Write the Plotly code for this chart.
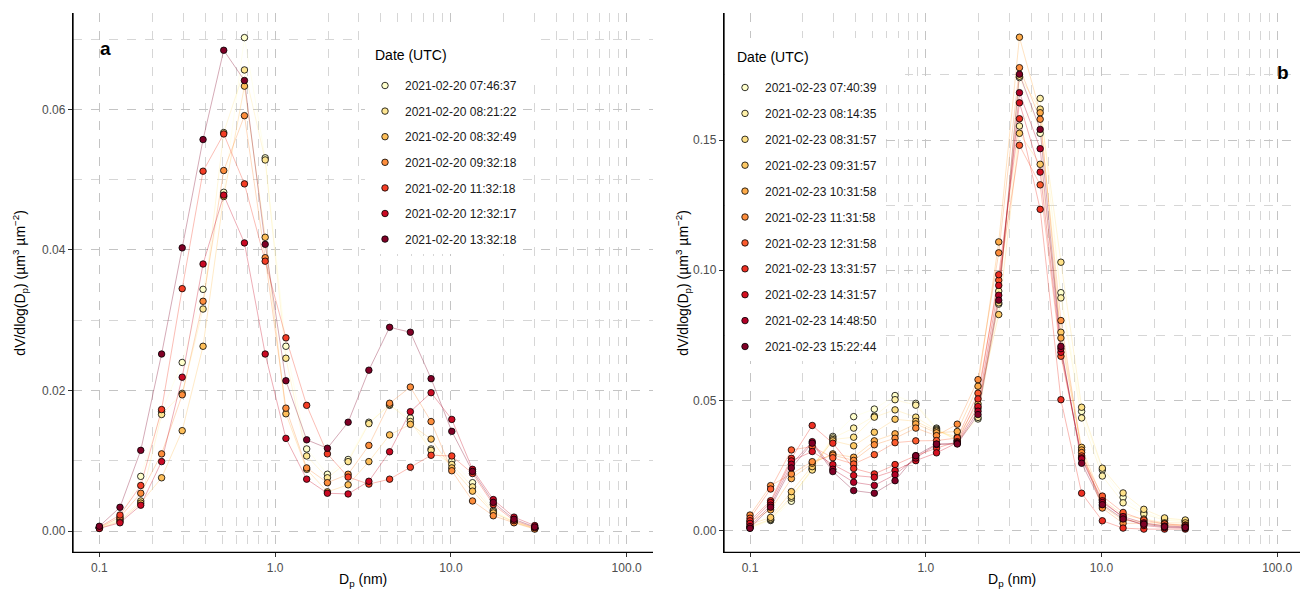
import plotly.graph_objects as go

W, H = 1300, 595

# Particle diameter bins
dp = [0.1, 0.131, 0.172, 0.226, 0.296, 0.389, 0.510, 0.669, 0.878, 1.152, 1.512,
      1.984, 2.603, 3.415, 4.481, 5.880, 7.715, 10.12, 13.28, 17.43, 22.86, 30.0]

# ---- Panel a : 2021-02-20 ----
dates_a = ["2021-02-20 07:46:37", "2021-02-20 08:21:22", "2021-02-20 08:32:49",
           "2021-02-20 09:32:18", "2021-02-20 11:32:18", "2021-02-20 12:32:17",
           "2021-02-20 13:32:18"]
colors_a = ["#FFFFCC", "#FEE692", "#FEBF5A", "#FD8D3C", "#F43D25", "#CA0923", "#800026"]
a_0746 = [0.0005, 0.0018, 0.0078, 0.0170, 0.0240, 0.0344, 0.0482, 0.0702, 0.0531, 0.0263, 0.0117,
          0.0081, 0.0102, 0.0155, 0.0179, 0.0161, 0.0117, 0.0100, 0.0069, 0.0030, 0.0014, 0.0004]
a_0821 = [0.0005, 0.0016, 0.0043, 0.0166, 0.0196, 0.0316, 0.0567, 0.0656, 0.0528, 0.0246, 0.0107,
          0.0076, 0.0099, 0.0153, 0.0180, 0.0156, 0.0115, 0.0095, 0.0063, 0.0028, 0.0013, 0.0004]
a_0832 = [0.0004, 0.0014, 0.0040, 0.0076, 0.0143, 0.0263, 0.0476, 0.0633, 0.0418, 0.0167, 0.0088,
          0.0056, 0.0066, 0.0099, 0.0137, 0.0152, 0.0131, 0.0090, 0.0057, 0.0026, 0.0013, 0.0004]
a_0932 = [0.0005, 0.0020, 0.0054, 0.0110, 0.0194, 0.0327, 0.0513, 0.0591, 0.0389, 0.0175, 0.0090,
          0.0069, 0.0081, 0.0122, 0.0182, 0.0205, 0.0156, 0.0086, 0.0043, 0.0022, 0.0012, 0.0003]
a_1132 = [0.0006, 0.0023, 0.0065, 0.0173, 0.0345, 0.0512, 0.0565, 0.0494, 0.0384, 0.0275, 0.0179,
          0.0110, 0.0077, 0.0067, 0.0074, 0.0091, 0.0108, 0.0107, 0.0082, 0.0038, 0.0015, 0.0005]
a_1232 = [0.0004, 0.0012, 0.0037, 0.0099, 0.0219, 0.0380, 0.0478, 0.0410, 0.0252, 0.0132, 0.0074,
          0.0054, 0.0053, 0.0071, 0.0113, 0.0170, 0.0197, 0.0159, 0.0088, 0.0045, 0.0020, 0.0008]
a_1332 = [0.0007, 0.0034, 0.0115, 0.0252, 0.0403, 0.0557, 0.0684, 0.0641, 0.0408, 0.0214, 0.0130,
          0.0118, 0.0155, 0.0229, 0.0290, 0.0283, 0.0217, 0.0142, 0.0085, 0.0041, 0.0017, 0.0006]
series_a = [a_0746, a_0821, a_0832, a_0932, a_1132, a_1232, a_1332]

# ---- Panel b : 2021-02-23 ----
dates_b = ["2021-02-23 07:40:39", "2021-02-23 08:14:35", "2021-02-23 08:31:57",
           "2021-02-23 09:31:57", "2021-02-23 10:31:58", "2021-02-23 11:31:58",
           "2021-02-23 12:31:58", "2021-02-23 13:31:57", "2021-02-23 14:31:57",
           "2021-02-23 14:48:50", "2021-02-23 15:22:44"]
colors_b = ["#FFFFCC", "#FFF1A9", "#FEE187", "#FEC965", "#FEAB49", "#FD8D3C",
            "#FC5B2E", "#ED2F22", "#D41020", "#B10026", "#800026"]
b_0740 = [0.0010, 0.0039, 0.0113, 0.0236, 0.0362, 0.0438, 0.0467, 0.0519, 0.0489, 0.0394, 0.0345,
          0.0429, 0.0870, 0.1740, 0.1526, 0.0914, 0.0458, 0.0233, 0.0128, 0.0070, 0.0045, 0.0038]
b_0814 = [0.0012, 0.0042, 0.0125, 0.0240, 0.0356, 0.0394, 0.0440, 0.0503, 0.0482, 0.0390, 0.0345,
          0.0435, 0.0920, 0.1554, 0.1660, 0.0894, 0.0433, 0.0210, 0.0107, 0.0064, 0.0040, 0.0035]
b_0831 = [0.0014, 0.0045, 0.0132, 0.0233, 0.0350, 0.0359, 0.0436, 0.0464, 0.0436, 0.0386, 0.0350,
          0.0470, 0.0875, 0.1745, 0.1619, 0.1031, 0.0474, 0.0240, 0.0145, 0.0082, 0.0049, 0.0041]
b_0931 = [0.0024, 0.0051, 0.0150, 0.0246, 0.0345, 0.0326, 0.0378, 0.0428, 0.0420, 0.0382, 0.0360,
          0.0487, 0.0830, 0.1526, 0.1407, 0.0762, 0.0320, 0.0120, 0.0060, 0.0045, 0.0030, 0.0030]
b_1031 = [0.0035, 0.0080, 0.0200, 0.0259, 0.0295, 0.0282, 0.0345, 0.0372, 0.0410, 0.0376, 0.0381,
          0.0555, 0.1109, 0.1895, 0.1605, 0.0740, 0.0310, 0.0095, 0.0040, 0.0035, 0.0026, 0.0022]
b_1131 = [0.0060, 0.0173, 0.0218, 0.0265, 0.0290, 0.0270, 0.0330, 0.0355, 0.0394, 0.0365, 0.0409,
          0.0580, 0.1067, 0.1778, 0.1580, 0.0807, 0.0300, 0.0087, 0.0028, 0.0028, 0.0020, 0.0019]
b_1231 = [0.0048, 0.0160, 0.0310, 0.0323, 0.0280, 0.0256, 0.0292, 0.0338, 0.0345, 0.0346, 0.0356,
          0.0528, 0.0962, 0.1480, 0.1328, 0.0670, 0.0287, 0.0133, 0.0070, 0.0041, 0.0026, 0.0020]
b_1331 = [0.0038, 0.0115, 0.0278, 0.0404, 0.0336, 0.0239, 0.0218, 0.0254, 0.0288, 0.0317, 0.0342,
          0.0506, 0.0983, 0.1582, 0.1234, 0.0503, 0.0144, 0.0038, 0.0010, 0.0006, 0.0006, 0.0006]
b_1431 = [0.0028, 0.0108, 0.0268, 0.0304, 0.0254, 0.0212, 0.0205, 0.0231, 0.0269, 0.0299, 0.0338,
          0.0477, 0.0942, 0.1643, 0.1377, 0.0685, 0.0280, 0.0115, 0.0050, 0.0020, 0.0012, 0.0010]
b_1448 = [0.0016, 0.0098, 0.0255, 0.0342, 0.0236, 0.0186, 0.0174, 0.0215, 0.0279, 0.0331, 0.0335,
          0.0459, 0.0904, 0.1682, 0.1467, 0.0699, 0.0276, 0.0108, 0.0054, 0.0030, 0.0018, 0.0015]
b_1522 = [0.0009, 0.0090, 0.0241, 0.0336, 0.0227, 0.0154, 0.0144, 0.0192, 0.0288, 0.0333, 0.0333,
          0.0446, 0.0885, 0.1753, 0.1541, 0.0708, 0.0259, 0.0100, 0.0045, 0.0025, 0.0015, 0.0012]
series_b = [b_0740, b_0814, b_0831, b_0931, b_1031, b_1131, b_1231, b_1331, b_1431, b_1448, b_1522]

x_tickvals = [0.1, 1, 10, 100]
x_ticktext = ["0.1", "1.0", "10.0", "100.0"]


def rgba(hexc, a):
    h = hexc.lstrip("#")
    r, g, b = int(h[0:2], 16), int(h[2:4], 16), int(h[4:6], 16)
    return f"rgba({r},{g},{b},{a})"


fig = go.Figure()

panels = [
    (series_a, dates_a, colors_a, "x", "y", "legend"),
    (series_b, dates_b, colors_b, "x2", "y2", "legend2"),
]

# lines first (below all points)
for series, dates, colors, xa, ya, lg in panels:
    for vals, d, c in zip(series, dates, colors):
        fig.add_trace(go.Scatter(x=dp, y=vals, mode="lines", xaxis=xa, yaxis=ya,
                                 line=dict(color=rgba(c, 0.42), width=0.8),
                                 showlegend=False, hoverinfo="skip", legendgroup=lg + d))
# points
for series, dates, colors, xa, ya, lg in panels:
    for vals, d, c in zip(series, dates, colors):
        fig.add_trace(go.Scatter(x=dp, y=vals, mode="markers", xaxis=xa, yaxis=ya, name=d,
                                 legend=lg, legendgroup=lg + d,
                                 marker=dict(size=6.5, color=c, line=dict(color="black", width=0.8))))

minor_x = [m * 10.0 ** e for e in (-1, 0, 1, 2) for m in range(2, 10)]

axis_common = dict(showline=True, linecolor="black", linewidth=1.3,
                   ticks="outside", ticklen=4, tickwidth=1, tickcolor="#333333",
                   tickfont=dict(family="Liberation Sans", size=12, color="#4D4D4D"),
                   showgrid=True, gridcolor="#C4C4C4", gridwidth=1.1, griddash="dash",
                   zeroline=False, automargin=False, layer="above traces")

ytop_px, ybot_px = 13, 552.3
ydom = [(H - ybot_px) / H, (H - ytop_px) / H]
xa_l, xa_r = 73 / W, 653 / W
xb_l, xb_r = 724 / W, 1.0

xa_common = dict(axis_common, type="log", tickvals=x_tickvals, ticktext=x_ticktext,
                 minor=dict(tickvals=minor_x, showgrid=True, gridcolor="#D6D6D6",
                            gridwidth=0.8, griddash="dash", ticks=""))

fig.update_layout(
    width=W, height=H,
    margin=dict(l=0, r=0, t=0, b=0),
    paper_bgcolor="white", plot_bgcolor="white",
    font=dict(family="Liberation Sans", color="#1A1A1A"),
    xaxis=dict(xa_common, domain=[xa_l, xa_r], range=[-1.15, 2.15], anchor="y"),
    yaxis=dict(axis_common, domain=ydom, range=[-0.0030, 0.0737], dtick=0.02, tick0=0,
               tickformat=".2f", anchor="x",
               minor=dict(dtick=0.01, tick0=0, showgrid=True, gridcolor="#D6D6D6",
                          gridwidth=0.8, griddash="dash", ticks="")),
    xaxis2=dict(xa_common, domain=[xb_l, xb_r], range=[-1.148, 2.13], anchor="y2"),
    yaxis2=dict(axis_common, domain=ydom, range=[-0.0083, 0.1988], dtick=0.05, tick0=0,
                tickformat=".2f", anchor="x2",
                minor=dict(dtick=0.025, tick0=0, showgrid=True, gridcolor="#D6D6D6",
                           gridwidth=0.8, griddash="dash", ticks="")),
    legend=dict(x=365 / W, y=1 - 71 / H, xanchor="left", yanchor="top", bgcolor="white",
                font=dict(family="Liberation Sans", size=12, color="#1A1A1A"),
                tracegroupgap=6.6, borderwidth=0),
    legend2=dict(x=725 / W, y=1 - 73 / H, xanchor="left", yanchor="top", bgcolor="white",
                 font=dict(family="Liberation Sans", size=12, color="#1A1A1A"),
                 tracegroupgap=6.9, borderwidth=0),
)

# white backgrounds behind legend titles (hide grid like the legend box does)
for x0, x1, y0, y1 in [(360, 535, 30, 76), (725, 905, 38, 78)]:
    fig.add_shape(type="rect", xref="paper", yref="paper", layer="above",
                  x0=x0 / W, x1=x1 / W, y0=1 - y1 / H, y1=1 - y0 / H,
                  fillcolor="white", line=dict(width=0))

# explicit L-shaped axis frames
for xl, xr in [(xa_l, xa_r), (xb_l, xb_r)]:
    fig.add_shape(type="line", xref="paper", yref="paper", x0=xl, x1=xl, y0=ydom[0], y1=ydom[1],
                  line=dict(color="black", width=1.3), layer="above")
    fig.add_shape(type="line", xref="paper", yref="paper", x0=xl, x1=xr, y0=ydom[0], y1=ydom[0],
                  line=dict(color="black", width=1.3), layer="above")

ytitle = "dV/dlog(D<sub>p</sub>) (µm<sup>3</sup> µm<sup>−2</sup>)"
xtitle = "D<sub>p</sub> (nm)"
ymid = 1 - ((ytop_px + ybot_px) / 2) / H
annots = [
    dict(text=ytitle, x=20 / W, y=ymid, textangle=-90, size=14),
    dict(text=ytitle, x=683 / W, y=ymid, textangle=-90, size=14),
    dict(text=xtitle, x=(73 + 653) / 2 / W, y=1 - 580 / H, size=14),
    dict(text=xtitle, x=(724 + 1300) / 2 / W, y=1 - 580 / H, size=14),
    dict(text="Date (UTC)", x=373 / W, y=1 - 55 / H, size=14, xanchor="left"),
    dict(text="Date (UTC)", x=735 / W, y=1 - 57 / H, size=14, xanchor="left"),
    dict(text="<b>a</b>", x=106 / W, y=1 - 48 / H, size=19),
    dict(text="<b>b</b>", x=1283 / W, y=1 - 72 / H, size=19),
]
for a in annots:
    a = dict(a)
    size = a.pop("size")
    xanchor = a.pop("xanchor", "center")
    fig.add_annotation(xref="paper", yref="paper", showarrow=False, xanchor=xanchor,
                       yanchor="middle", font=dict(family="Liberation Sans", size=size, color="black"),
                       **a)

fig.write_html("out.html", config={"displayModeBar": False},
               post_script="document.body.style.margin='0';document.body.style.overflow='hidden';")
